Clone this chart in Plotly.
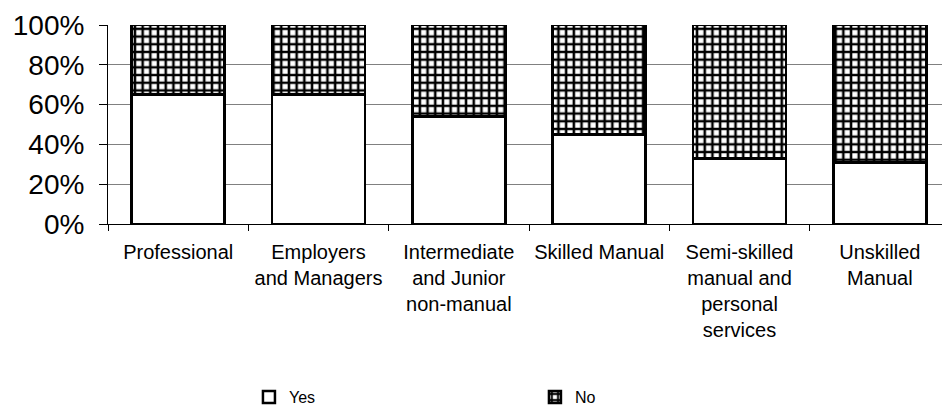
import plotly.graph_objects as go

# Occupational groups and share answering Yes / No (percent)
categories = [
    "Professional",
    "Employers<br>and Managers",
    "Intermediate<br>and Junior<br>non-manual",
    "Skilled Manual",
    "Semi-skilled<br>manual and<br>personal<br>services",
    "Unskilled<br>Manual",
]
yes_pct = [65, 65, 54, 45, 33, 31]
no_pct = [100 - v for v in yes_pct]
y_ticks = [0, 20, 40, 60, 80, 100]
y_tick_labels = [f"{v}%" for v in y_ticks]

FONT = "Arial, 'Liberation Sans', sans-serif"

fig = go.Figure()
fig.add_trace(go.Bar(
    name="Yes", x=categories, y=yes_pct, width=0.663,
    marker=dict(color="white", line=dict(color="black", width=2.5)),
))
fig.add_trace(go.Bar(
    name="No", x=categories, y=no_pct, width=0.663,
    marker=dict(
        color="white",
        line=dict(color="black", width=2.5),
        pattern=dict(shape="+", fgcolor="black", bgcolor="white",
                     size=7.7, solidity=0.55, fillmode="replace"),
    ),
))

fig.update_layout(
    barmode="stack",
    width=942, height=409,
    margin=dict(l=108, r=0, t=25, b=185, autoexpand=False),
    paper_bgcolor="white", plot_bgcolor="white",
    font=dict(family=FONT, color="black"),
    showlegend=True,
    legend=dict(
        orientation="h", x=0.169, xanchor="left", y=-0.87, yanchor="middle",
        font=dict(size=16, family=FONT), entrywidth=241, entrywidthmode="pixels",
        traceorder="normal", itemclick=False,
    ),
    xaxis=dict(
        type="category", range=[-0.5, 5.443], automargin=False,
        tickson="boundaries", ticks="outside", ticklen=6, tickcolor="black",
        showline=True, linecolor="black", linewidth=1, showgrid=False,
        tickfont=dict(size=20, family=FONT), tickangle=0,
        ticklabelstandoff=10,
    ),
    yaxis=dict(
        range=[0, 100], tickmode="array", tickvals=y_ticks, ticktext=y_tick_labels,
        automargin=False,
        ticks="outside", ticklen=8, tickcolor="black",
        showline=True, linecolor="black", linewidth=1,
        showgrid=True, gridcolor="#808080", gridwidth=1, zeroline=False,
        tickfont=dict(size=28, family=FONT), ticklabelstandoff=9,
    ),
)

fig.write_html("out.html")
